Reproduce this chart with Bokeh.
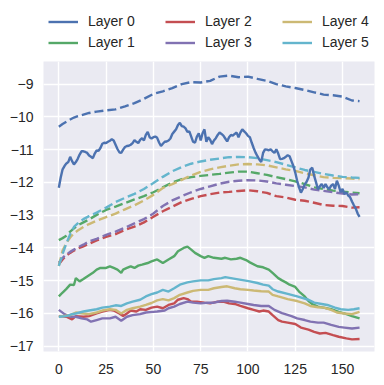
from bokeh.plotting import figure
from bokeh.layouts import column
from bokeh.models import Range1d, FixedTicker, Legend, LegendItem
from bokeh.embed import file_html
from bokeh.resources import INLINE

# ---------------- data ----------------
layer_names = ["Layer 0", "Layer 1", "Layer 2", "Layer 3", "Layer 4", "Layer 5"]
layer_colors = ["#4C72B0", "#55A868", "#C44E52", "#8172B2", "#CCB974", "#64B5CD"]

x_ticks = [0, 25, 50, 75, 100, 125, 150]
y_ticks = [-17, -16, -15, -14, -13, -12, -11, -10, -9]
y_tick_labels = ["\u221217", "\u221216", "\u221215", "\u221214", "\u221213",
                 "\u221212", "\u221211", "\u221210", "\u22129"]

# dashed series (smooth)
dash_x = [0, 2, 4, 6, 8, 10, 13, 16, 20, 25, 30, 35, 40, 45, 50, 55, 60, 65, 70, 75,
          80, 85, 90, 95, 100, 105, 110, 115, 120, 125, 130, 135, 140, 145, 150, 155, 159]
dash_layer0 = [-10.30, -10.22, -10.15, -10.08, -10.02, -9.98, -9.93, -9.88, -9.84, -9.80,
               -9.77, -9.68, -9.58, -9.45, -9.30, -9.22, -9.12, -9.00, -8.94, -8.95,
               -8.90, -8.77, -8.74, -8.79, -8.77, -8.84, -8.90, -9.00, -9.07, -9.12,
               -9.18, -9.25, -9.32, -9.34, -9.38, -9.50, -9.52]
dash_layer1 = [-13.76, -13.70, -13.63, -13.50, -13.40, -13.31, -13.22, -13.13, -12.99, -12.84,
               -12.74, -12.63, -12.52, -12.42, -12.30, -12.15, -12.00, -11.90, -11.84, -11.80,
               -11.77, -11.74, -11.70, -11.67, -11.67, -11.72, -11.77, -11.84, -11.90, -11.97,
               -12.05, -12.15, -12.20, -12.25, -12.28, -12.31, -12.33]
dash_layer2 = [-14.50, -14.35, -14.23, -14.15, -14.08, -14.02, -13.95, -13.87, -13.77, -13.66,
               -13.58, -13.45, -13.35, -13.22, -13.05, -12.88, -12.74, -12.60, -12.50, -12.42,
               -12.36, -12.31, -12.29, -12.26, -12.24, -12.27, -12.32, -12.42, -12.46, -12.53,
               -12.56, -12.62, -12.69, -12.71, -12.72, -12.77, -12.76]
dash_layer3 = [-14.45, -14.30, -14.20, -14.12, -14.05, -13.98, -13.90, -13.80, -13.72, -13.60,
               -13.50, -13.38, -13.25, -13.12, -12.95, -12.72, -12.55, -12.42, -12.30, -12.20,
               -12.12, -12.04, -11.98, -11.95, -11.93, -11.94, -11.97, -12.03, -12.07, -12.11,
               -12.15, -12.22, -12.26, -12.30, -12.34, -12.37, -12.36]
dash_layer4 = [-14.55, -14.08, -13.85, -13.68, -13.55, -13.47, -13.36, -13.27, -13.17, -13.06,
               -12.95, -12.82, -12.70, -12.55, -12.38, -12.17, -12.05, -11.92, -11.79, -11.68,
               -11.60, -11.54, -11.49, -11.45, -11.44, -11.45, -11.48, -11.54, -11.60, -11.65,
               -11.72, -11.78, -11.84, -11.86, -11.87, -11.88, -11.90]
dash_layer5 = [-14.55, -14.18, -13.86, -13.58, -13.36, -13.25, -13.12, -13.03, -12.92, -12.77,
               -12.60, -12.47, -12.35, -12.20, -12.02, -11.83, -11.66, -11.53, -11.43, -11.36,
               -11.31, -11.27, -11.23, -11.22, -11.23, -11.26, -11.32, -11.38, -11.46, -11.54,
               -11.62, -11.68, -11.74, -11.79, -11.83, -11.85, -11.86]

# solid series (noisy)
solid0_x = list(range(160))
solid0_y = [-12.16, -11.85, -11.60, -11.50, -11.42, -11.38, -11.22, -11.35, -11.45, -11.38,
            -11.28, -11.15, -11.05, -11.05, -11.07, -11.10, -11.18, -11.22, -11.26, -11.12,
            -11.02, -11.04, -10.95, -10.82, -10.79, -10.80, -10.76, -10.73, -10.68, -10.72,
            -10.85, -10.98, -11.08, -11.10, -11.00, -10.92, -10.89, -10.88, -10.85, -10.80,
            -10.71, -10.76, -10.80, -10.70, -10.65, -10.72, -10.55, -10.46, -10.62, -10.66,
            -10.62, -10.60, -10.64, -10.78, -10.89, -10.82, -10.76, -10.75, -10.72, -10.66,
            -10.52, -10.45, -10.38, -10.25, -10.18, -10.28, -10.30, -10.35, -10.46, -10.44,
            -10.60, -10.76, -10.79, -10.60, -10.50, -10.72, -10.50, -10.38, -10.76, -10.62,
            -10.70, -10.83, -10.72, -10.65, -10.55, -10.48, -10.52, -10.57, -10.66, -10.75,
            -10.62, -10.55, -10.57, -10.52, -10.48, -10.62, -10.48, -10.38, -10.44, -10.50,
            -10.58, -10.62, -10.79, -10.95, -11.09, -11.20, -11.30, -11.38, -11.10, -10.99,
            -11.00, -11.02, -10.99, -11.05, -11.10, -10.99, -11.12, -11.29, -11.28, -11.26,
            -11.22, -11.17, -11.20, -11.35, -11.50, -11.70, -11.95, -12.15, -12.31, -12.20,
            -12.06, -11.98, -11.85, -11.60, -11.55, -11.80, -12.00, -12.21, -12.12, -12.05,
            -12.17, -12.05, -12.15, -12.20, -12.10, -12.05, -12.20, -11.95, -12.10, -12.30,
            -12.20, -12.36, -12.30, -12.40, -12.45, -12.58, -12.70, -12.80, -12.95, -13.05]

solid1_x = [0, 2, 4, 6, 8, 9, 11, 13, 15, 18, 20, 22, 25, 27, 29, 31, 33, 34, 36, 38, 40, 42,
            44, 47, 49, 52, 55, 58, 61, 63, 66, 68, 70, 72, 75, 77, 79, 82, 86, 88, 91, 94, 96,
            99, 101, 105, 108, 111, 113, 116, 118, 120, 122, 125, 127, 130, 132, 134, 137, 140,
            144, 148, 151, 155, 159]
solid1_y = [-15.48, -15.36, -15.25, -15.12, -15.13, -14.92, -15.02, -14.95, -14.87, -14.76,
            -14.66, -14.61, -14.61, -14.56, -14.61, -14.66, -14.76, -14.66, -14.61, -14.56,
            -14.61, -14.54, -14.51, -14.46, -14.41, -14.35, -14.46, -14.35, -14.25, -14.10,
            -14.00, -13.96, -14.05, -14.15, -14.25, -14.30, -14.25, -14.30, -14.33, -14.30,
            -14.35, -14.33, -14.30, -14.37, -14.44, -14.56, -14.59, -14.66, -14.76, -14.92,
            -14.99, -15.05, -15.12, -15.19, -15.33, -15.48, -15.62, -15.71, -15.79, -15.82,
            -15.87, -15.95, -16.00, -16.08, -16.15]

solid2_x = [0, 4, 7, 9, 13, 16, 20, 23, 27, 29, 32, 34, 36, 38, 41, 43, 46, 49, 52, 55, 58,
            61, 63, 66, 68, 70, 73, 77, 80, 84, 87, 90, 93, 96, 100, 103, 106, 108, 111, 113,
            116, 118, 121, 125, 128, 132, 135, 138, 141, 145, 148, 152, 155, 159]
solid2_y = [-16.08, -16.10, -16.18, -16.08, -16.10, -16.08, -16.00, -15.94, -15.89, -15.91,
            -16.00, -16.08, -16.00, -15.91, -15.94, -15.87, -15.89, -15.82, -15.79, -15.84,
            -15.74, -15.69, -15.58, -15.53, -15.56, -15.64, -15.64, -15.67, -15.69, -15.64,
            -15.64, -15.69, -15.71, -15.77, -15.84, -15.89, -15.94, -15.91, -15.94, -16.05,
            -16.20, -16.25, -16.28, -16.32, -16.43, -16.49, -16.56, -16.61, -16.59, -16.66,
            -16.71, -16.76, -16.79, -16.78]

solid3_x = [0, 3, 6, 9, 12, 15, 17, 20, 23, 27, 30, 33, 36, 39, 43, 46, 50, 52, 56, 58, 61,
            64, 68, 71, 75, 79, 82, 86, 89, 93, 96, 100, 103, 107, 111, 114, 118, 123, 126,
            130, 133, 137, 140, 144, 148, 151, 155, 159]
solid3_y = [-15.89, -16.02, -16.10, -16.10, -16.15, -16.18, -16.25, -16.20, -16.15, -16.15,
            -16.10, -16.22, -16.10, -16.05, -16.02, -15.97, -15.95, -15.94, -15.91, -15.84,
            -15.79, -15.71, -15.64, -15.67, -15.69, -15.67, -15.67, -15.62, -15.61, -15.64,
            -15.67, -15.71, -15.74, -15.77, -15.77, -15.89, -15.99, -16.08, -16.15, -16.20,
            -16.25, -16.28, -16.28, -16.35, -16.41, -16.43, -16.46, -16.43]

solid4_x = [0, 6, 9, 13, 16, 20, 23, 27, 30, 33, 36, 39, 43, 46, 49, 52, 55, 58, 61, 64, 68,
            71, 75, 79, 82, 86, 89, 93, 96, 100, 103, 107, 111, 113, 116, 121, 126, 130, 133,
            137, 140, 144, 147, 151, 155, 159]
solid4_y = [-16.10, -16.05, -15.97, -16.00, -16.02, -15.97, -15.91, -15.87, -15.89, -16.00,
            -15.89, -15.84, -15.79, -15.74, -15.68, -15.60, -15.56, -15.60, -15.53, -15.43,
            -15.36, -15.31, -15.28, -15.28, -15.23, -15.19, -15.17, -15.23, -15.26, -15.28,
            -15.30, -15.32, -15.33, -15.43, -15.48, -15.56, -15.62, -15.69, -15.77, -15.81,
            -15.82, -15.89, -15.97, -16.00, -16.02, -15.95]

solid5_x = [0, 4, 7, 9, 13, 16, 20, 23, 27, 30, 33, 36, 39, 43, 46, 49, 52, 55, 58, 61, 64,
            68, 71, 75, 79, 82, 86, 88, 91, 94, 98, 101, 105, 108, 111, 113, 116, 121, 126,
            132, 135, 139, 142, 146, 149, 153, 156, 159]
solid5_y = [-16.10, -16.08, -16.02, -16.00, -15.94, -15.91, -15.87, -15.82, -15.79, -15.75,
            -15.77, -15.69, -15.64, -15.58, -15.48, -15.41, -15.36, -15.28, -15.33, -15.23,
            -15.12, -15.05, -15.02, -14.99, -14.99, -14.95, -14.92, -14.89, -14.92, -14.95,
            -14.99, -15.02, -15.07, -15.12, -15.15, -15.26, -15.33, -15.40, -15.48, -15.58,
            -15.67, -15.71, -15.74, -15.82, -15.87, -15.89, -15.87, -15.84]

dash_series = [dash_layer0, dash_layer1, dash_layer2, dash_layer3, dash_layer4, dash_layer5]
solid_series = [(solid0_x, solid0_y), (solid1_x, solid1_y), (solid2_x, solid2_y),
                (solid3_x, solid3_y), (solid4_x, solid4_y), (solid5_x, solid5_y)]

# ---------------- styling constants ----------------
FONT = "Liberation Sans"
TXT = "#262626"
LW = 2.4
W = 384
LEG_H = 61
MAIN_H = 324

# ---------------- legend strip (separate figure above the plot) ----------------
# its view range lies far from the data, so the proxy lines only feed the legend glyphs
leg = figure(width=W, height=LEG_H, output_backend="svg", toolbar_location=None,
             x_axis_type=None, y_axis_type=None,
             x_range=Range1d(1000, 1001), y_range=Range1d(1000, 1001),
             min_border=0, min_border_left=0, min_border_right=0,
             min_border_top=0, min_border_bottom=0)
leg.outline_line_color = None
leg.background_fill_color = "white"
leg.border_fill_color = "white"
leg.xgrid.visible = False
leg.ygrid.visible = False

proxy = [leg.line(xs, ys, line_color=c, line_width=LW)
         for (xs, ys), c in zip(solid_series, layer_colors)]

# the legend strip's frame is aligned with the main frame (starts 43px in)
col_offsets = [5, 122, 239]
for ci, vx in enumerate(col_offsets):
    items = [LegendItem(label=layer_names[2 * ci + k], renderers=[proxy[2 * ci + k]])
             for k in range(2)]
    lg = Legend(items=items, location=(vx, 8.5), orientation="vertical",
                padding=0, margin=0, spacing=0,
                glyph_width=30, glyph_height=21, label_height=21, label_standoff=10,
                label_text_font=FONT, label_text_font_size="14px", label_text_color=TXT,
                border_line_color=None, background_fill_alpha=0)
    leg.add_layout(lg, "center")

# ---------------- main plot ----------------
p = figure(width=W, height=MAIN_H, output_backend="svg", toolbar_location=None,
           x_range=Range1d(-8.1, 166.9), y_range=Range1d(-17.16, -8.31),
           min_border_left=43, min_border_right=10, min_border_top=0, min_border_bottom=34)

p.background_fill_color = "#EAEAF2"
p.border_fill_color = "white"
p.outline_line_color = None

for ax in (p.xaxis[0], p.yaxis[0]):
    ax.axis_line_color = None
    ax.major_tick_line_color = None
    ax.minor_tick_line_color = None
    ax.major_tick_in = 0
    ax.major_tick_out = 0
    ax.major_label_text_font = FONT
    ax.major_label_text_font_size = "14px"
    ax.major_label_text_color = TXT

p.xaxis[0].ticker = FixedTicker(ticks=x_ticks)
p.xaxis[0].major_label_standoff = 12
p.yaxis[0].ticker = FixedTicker(ticks=y_ticks)
p.yaxis[0].major_label_overrides = dict(zip(y_ticks, y_tick_labels))
p.yaxis[0].major_label_standoff = 10

p.xgrid.grid_line_color = "white"
p.ygrid.grid_line_color = "white"
p.xgrid.grid_line_width = 1.4
p.ygrid.grid_line_width = 1.4

for ys, c in zip(dash_series, layer_colors):
    p.line(dash_x, ys, line_color=c, line_width=LW, line_dash="9 4")

for (xs, ys), c in zip(solid_series, layer_colors):
    p.line(xs, ys, line_color=c, line_width=LW)

layout = column(leg, p, spacing=0)
open("out.html", "w").write(file_html(layout, INLINE))
